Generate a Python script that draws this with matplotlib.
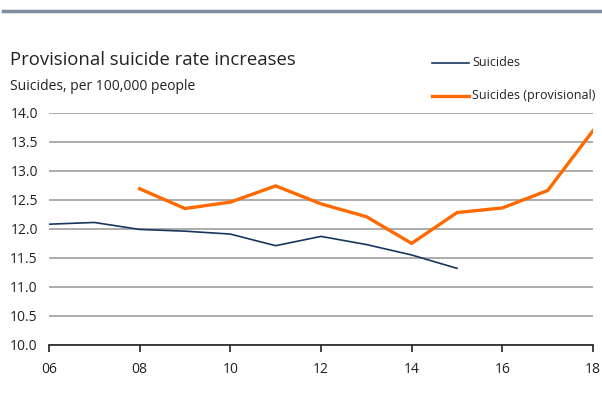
import matplotlib
matplotlib.use("Agg")
import matplotlib.pyplot as plt
from matplotlib.lines import Line2D

plt.rcParams["font.family"] = ["Open Sans", "DejaVu Sans"]

# suicide rate per 100,000 people, by year
years = [2006, 2007, 2008, 2009, 2010, 2011, 2012, 2013, 2014, 2015]
suicides = [12.08, 12.11, 11.99, 11.96, 11.91, 11.71, 11.87, 11.73, 11.55, 11.32]
prov_years = [2008, 2009, 2010, 2011, 2012, 2013, 2014, 2015, 2016, 2017, 2018]
provisional = [12.69, 12.35, 12.46, 12.74, 12.43, 12.21, 11.75, 12.28, 12.36, 12.66, 13.69]

xticks = [2006, 2008, 2010, 2012, 2014, 2016, 2018]
xticklabels = ["06", "08", "10", "12", "14", "16", "18"]
yticks = [10.0, 10.5, 11.0, 11.5, 12.0, 12.5, 13.0, 13.5, 14.0]

navy = "#17375e"
orange = "#ff6a00"
ink = "#222222"

fig = plt.figure(figsize=(6.02, 4.07), dpi=100)
ax = fig.add_axes([49 / 602, 62 / 407, 544 / 602, 232.3 / 407])

ax.plot(years, suicides, color=navy, lw=1.2, solid_joinstyle="miter")
ax.plot(prov_years, provisional, color=orange, lw=2.4, solid_joinstyle="miter")

ax.set_xlim(2006, 2018)
ax.set_ylim(10, 14)
ax.set_xticks(xticks)
ax.set_xticklabels(xticklabels)
ax.set_yticks(yticks)
ax.set_yticklabels([f"{v:.1f}" for v in yticks])
ax.yaxis.grid(True, color="#a6a6a6", lw=1.3)
ax.set_axisbelow(True)
ax.tick_params(axis="y", length=0, pad=8, labelsize=10, colors=ink)
ax.tick_params(axis="x", length=5, width=1.2, color=ink, pad=7, labelsize=10,
               labelcolor=ink)
for s in ["top", "right", "left"]:
    ax.spines[s].set_visible(False)
ax.spines["bottom"].set_color(ink)
ax.spines["bottom"].set_linewidth(1.2)
for lab in ax.get_xticklabels():
    lab.set_clip_on(False)

# header rule
fig.add_artist(Line2D([3 / 602, 1], [1 - 11 / 407] * 2, color="#7f8fa0", lw=2.5))

fig.text(10 / 602, 1 - 60 / 407, "Provisional suicide rate increases", fontsize=13.3,
         color=ink, va="center", ha="left")
fig.text(10 / 602, 1 - 86 / 407, "Suicides, per 100,000 people", fontsize=10,
         color=ink, va="center", ha="left")

# legend drawn by hand in figure coordinates
fig.add_artist(Line2D([432 / 602, 469 / 602], [1 - 63 / 407] * 2, color=navy, lw=1.2))
fig.add_artist(Line2D([432 / 602, 469 / 602], [1 - 96 / 407] * 2, color=orange, lw=2.4))
fig.text(472 / 602, 1 - 63 / 407, "Suicides", fontsize=9, color=ink, va="center")
fig.text(472 / 602, 1 - 96 / 407, "Suicides (provisional)", fontsize=9, color=ink,
         va="center")

fig.savefig("out.png", dpi=100)
